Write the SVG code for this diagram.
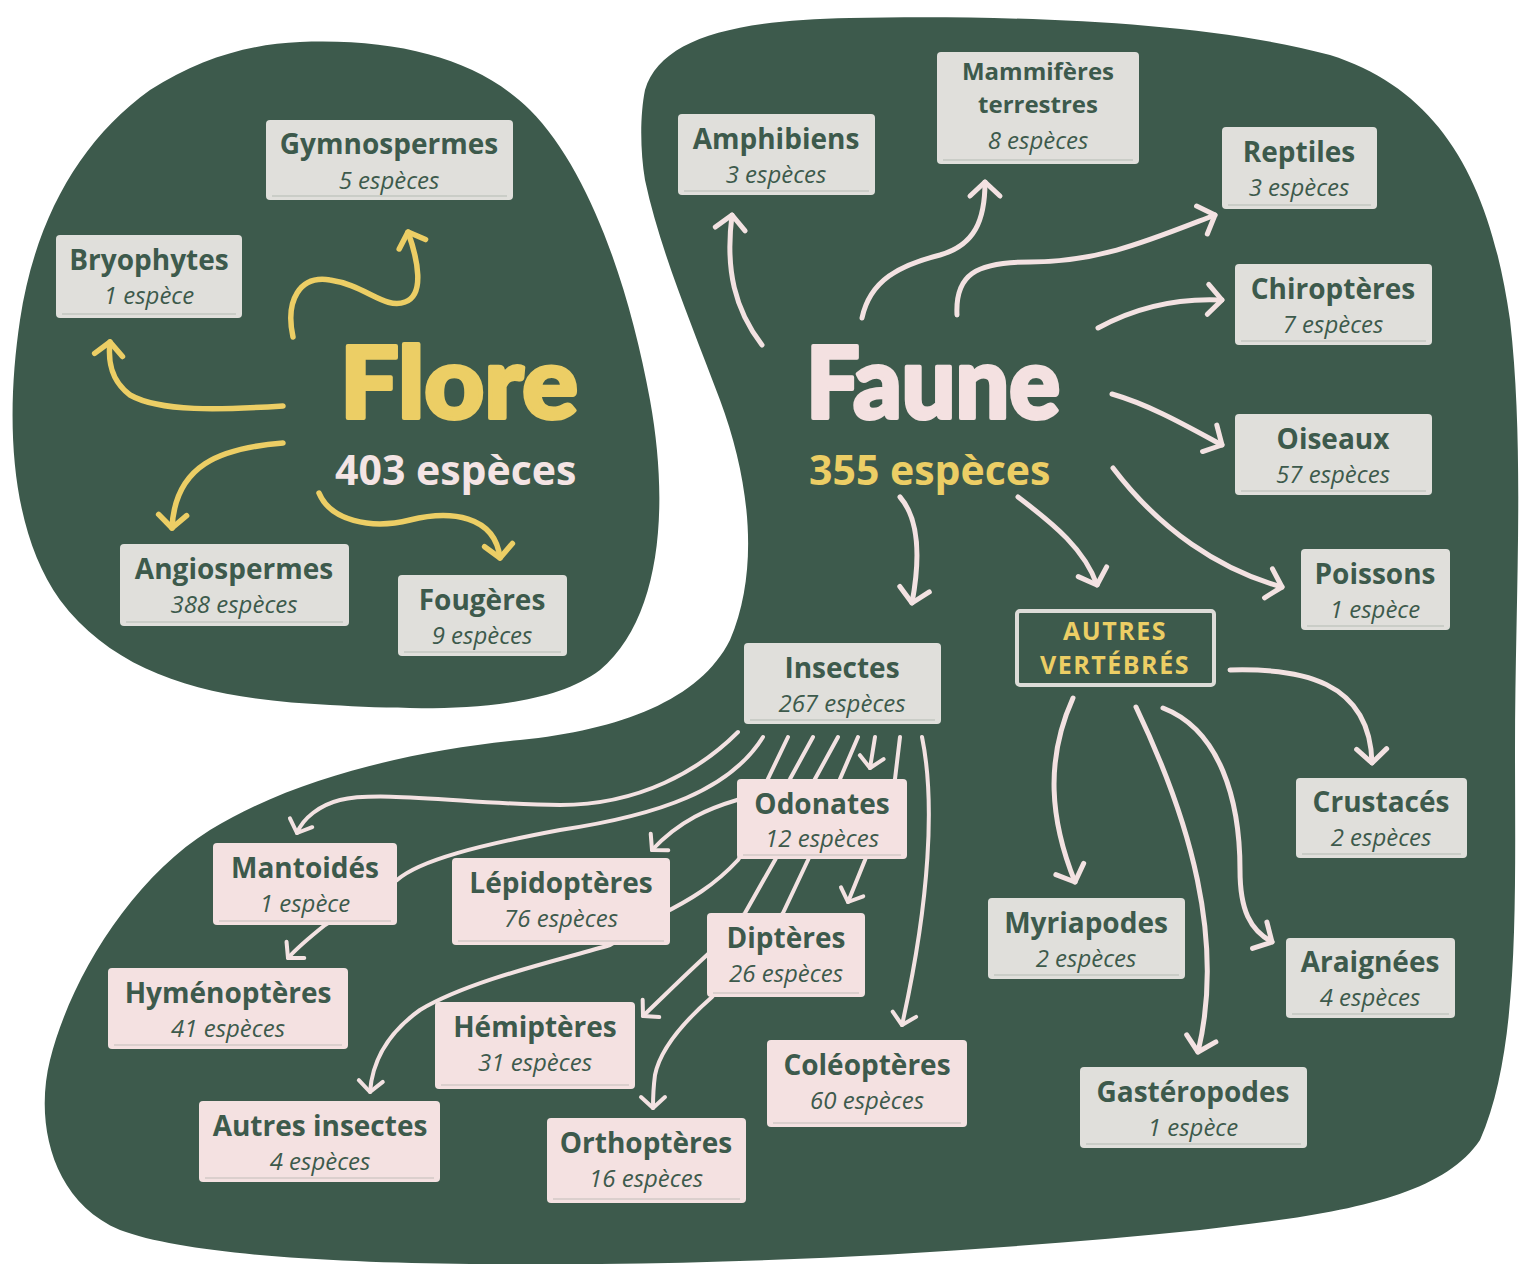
<svg xmlns="http://www.w3.org/2000/svg" width="1519" height="1264" viewBox="0 0 1519 1264">
<style>
.bg{fill:#3d5a4c}
.bx{fill:#e0dfdb}
.pk{fill:#f4e1e1}
.il{stroke:#3d5a4c;stroke-opacity:.18;stroke-width:1.5;fill:none}
.nm{font-family:"Open Sans","Lato",sans-serif;font-weight:700;font-size:28px;fill:#3d5a4c;text-anchor:middle}
.ct{font-family:"Open Sans","Lato",sans-serif;font-style:italic;font-weight:500;font-size:24px;fill:#3d5a4c;text-anchor:middle}
.cy{fill:none;stroke:#ecce65;stroke-width:5.5;stroke-linecap:round;stroke-linejoin:round}
.cp{fill:none;stroke:#f3e2e2;stroke-width:5;stroke-linecap:round;stroke-linejoin:round}
.ci{fill:none;stroke:#f3e2e2;stroke-width:4;stroke-linecap:round;stroke-linejoin:round}
.ttl{font-family:"Lato","Open Sans",sans-serif;font-weight:900;font-size:100px;stroke-width:4;stroke-linejoin:round}
.sub{font-family:"Open Sans","Lato",sans-serif;font-weight:700;font-size:41px}
.av{font-family:"Open Sans","Lato",sans-serif;font-weight:700;font-size:25px;fill:#ecce65;text-anchor:middle;letter-spacing:1.5px}
</style>
<defs>
<marker id="ay" viewBox="-20 -20 40 40" markerWidth="40" markerHeight="40" markerUnits="userSpaceOnUse" orient="auto" refX="0" refY="0"><path d="M-13,-14 L0,0 L-13,14" fill="none" stroke="#ecce65" stroke-width="5.5" stroke-linecap="round" stroke-linejoin="round"/></marker>
<marker id="ap" viewBox="-20 -20 40 40" markerWidth="40" markerHeight="40" markerUnits="userSpaceOnUse" orient="auto" refX="0" refY="0"><path d="M-14,-15 L0,0 L-14,15" fill="none" stroke="#f3e2e2" stroke-width="5" stroke-linecap="round" stroke-linejoin="round"/></marker>
<marker id="ai" viewBox="-20 -20 40 40" markerWidth="40" markerHeight="40" markerUnits="userSpaceOnUse" orient="auto" refX="0" refY="0"><path d="M-11,-12 L0,0 L-11,12" fill="none" stroke="#f3e2e2" stroke-width="4" stroke-linecap="round" stroke-linejoin="round"/></marker>
</defs>
<rect width="1519" height="1264" fill="#ffffff"/>
<g id="blobs">
<path class="bg" d="M300,42 C400,38 480,60 530,110 C590,170 630,290 650,400 C670,510 660,620 600,670 C540,715 420,710 330,705 C220,700 120,680 60,600 C10,530 5,420 20,320 C35,220 80,140 150,90 C200,58 250,44 300,42 Z"/>
<path class="bg" d="M645,90 C660,40 730,20 850,18 C1000,15 1200,20 1330,55 C1440,90 1490,180 1510,320 C1525,450 1515,600 1515,750 C1515,900 1520,1050 1480,1140 C1440,1200 1330,1215 1200,1230 C1000,1250 800,1262 600,1264 C400,1266 200,1260 120,1230 C50,1200 35,1120 50,1060 C70,980 130,880 210,830 C300,775 420,750 520,740 C620,730 700,700 730,640 C760,570 750,480 720,400 C690,320 660,250 645,180 C640,150 640,115 645,90 Z"/>
</g>
<g id="connectors">
<path class="cy" marker-end="url(#ay)" d="M293,337 C285,300 300,275 330,280 C365,285 385,310 405,302 C425,295 418,260 408,232"/>
<path class="cy" marker-end="url(#ay)" d="M283,406 C220,410 160,412 130,395 C110,380 108,360 110,342"/>
<path class="cy" marker-end="url(#ay)" d="M283,443 C220,448 175,465 172,528"/>
<path class="cy" marker-end="url(#ay)" d="M319,493 C330,520 370,530 410,520 C450,510 495,515 500,558"/>
<path class="cp" marker-end="url(#ap)" d="M762,345 C735,310 725,270 732,215"/>
<path class="cp" marker-end="url(#ap)" d="M862,318 C870,280 900,265 940,255 C975,245 985,220 985,182"/>
<path class="cp" marker-end="url(#ap)" d="M957,315 C955,275 975,262 1030,262 C1100,262 1150,240 1215,215"/>
<path class="cp" marker-end="url(#ap)" d="M1098,328 C1140,305 1180,298 1222,300"/>
<path class="cp" marker-end="url(#ap)" d="M1112,394 C1150,405 1185,425 1222,445"/>
<path class="cp" marker-end="url(#ap)" d="M1113,468 C1160,530 1220,570 1282,587"/>
<path class="cp" marker-end="url(#ap)" d="M900,497 C920,520 920,560 912,603"/>
<path class="cp" marker-end="url(#ap)" d="M1018,497 C1055,525 1085,550 1097,585"/>
<path class="cp" marker-end="url(#ap)" d="M1230,670 C1300,668 1370,680 1372,763"/>
<path class="cp" marker-end="url(#ap)" d="M1073,698 C1045,760 1050,820 1075,882"/>
<path class="cp" marker-end="url(#ap)" d="M1136,707 C1190,820 1225,940 1198,1052"/>
<path class="cp" marker-end="url(#ap)" d="M1163,708 C1220,730 1240,800 1240,870 C1240,910 1250,930 1272,942"/>
<path class="ci" marker-end="url(#ai)" d="M738,732 C700,770 640,805 560,805 C480,805 380,790 340,800 C320,805 303,818 297,833"/>
<path class="ci" marker-end="url(#ai)" d="M763,737 C730,790 660,815 560,830 C480,845 420,860 397,880 L325,925 C310,937 298,947 288,958"/>
<path class="ci" marker-end="url(#ai)" d="M788,737 L765,785 L737,800 C710,808 680,820 652,850"/>
<path class="ci" marker-end="url(#ai)" d="M813,737 L790,779 L738,860 C715,885 690,900 660,915 L610,945 C560,960 470,980 420,1010 C385,1035 372,1065 370,1092"/>
<path class="ci" marker-end="url(#ai)" d="M838,737 L815,779 L775,860 L745,913 L707,955 C685,975 665,995 643,1016"/>
<path class="ci" marker-end="url(#ai)" d="M858,737 L840,779 L808,860 L783,913 L712,997 C680,1025 660,1050 655,1075 C653,1090 653,1100 653,1108"/>
<path class="ci" marker-end="url(#ai)" d="M875,737 L870,768"/>
<path class="ci" marker-end="url(#ai)" d="M900,737 L895,779 L865,860 L848,902"/>
<path class="ci" marker-end="url(#ai)" d="M922,737 C935,800 930,900 902,1025"/>
</g>
<g id="flore-title">
<text class="ttl" x="340" y="418" fill="#ecce65" stroke="#ecce65" textLength="238" lengthAdjust="spacingAndGlyphs">Flore</text>
<text class="sub" x="335" y="485" fill="#f4e4e4">403 espèces</text>
</g>
<g id="faune-title">
<text class="ttl" x="806" y="418" fill="#f4e1e1" stroke="#f4e1e1" textLength="254" lengthAdjust="spacingAndGlyphs">Faune</text>
<text class="sub" x="809" y="485" fill="#ecce65">355 espèces</text>
</g>
<g id="gymnospermes"><rect class="bx" x="266" y="120" width="247" height="80" rx="4"/><line class="il" x1="272" y1="196" x2="507" y2="196"/><text class="nm" x="389" y="154">Gymnospermes</text><text class="ct" x="389" y="189">5 espèces</text></g>
<g id="bryophytes"><rect class="bx" x="56" y="235" width="186" height="83" rx="4"/><line class="il" x1="62" y1="314" x2="236" y2="314"/><text class="nm" x="149" y="270">Bryophytes</text><text class="ct" x="149" y="304">1 espèce</text></g>
<g id="angiospermes"><rect class="bx" x="120" y="544" width="229" height="82" rx="4"/><line class="il" x1="126" y1="622" x2="343" y2="622"/><text class="nm" x="234" y="579">Angiospermes</text><text class="ct" x="234" y="613">388 espèces</text></g>
<g id="fougeres"><rect class="bx" x="398" y="575" width="169" height="81" rx="4"/><line class="il" x1="404" y1="652" x2="561" y2="652"/><text class="nm" x="482" y="610">Fougères</text><text class="ct" x="482" y="644">9 espèces</text></g>
<g id="amphibiens"><rect class="bx" x="678" y="114" width="197" height="81" rx="4"/><line class="il" x1="684" y1="191" x2="869" y2="191"/><text class="nm" x="776" y="149">Amphibiens</text><text class="ct" x="776" y="183">3 espèces</text></g>
<g id="mammiferes"><rect class="bx" x="937" y="52" width="202" height="112" rx="4"/><line class="il" x1="943" y1="160" x2="1133" y2="160"/><text class="nm" x="1038" y="80" style="font-size:24px">Mammifères</text><text class="nm" x="1038" y="113" style="font-size:24px">terrestres</text><text class="ct" x="1038" y="149">8 espèces</text></g>
<g id="reptiles"><rect class="bx" x="1222" y="127" width="155" height="82" rx="4"/><line class="il" x1="1228" y1="205" x2="1371" y2="205"/><text class="nm" x="1299" y="162">Reptiles</text><text class="ct" x="1299" y="196">3 espèces</text></g>
<g id="chiropteres"><rect class="bx" x="1235" y="264" width="197" height="81" rx="4"/><line class="il" x1="1241" y1="341" x2="1426" y2="341"/><text class="nm" x="1333" y="299">Chiroptères</text><text class="ct" x="1333" y="333">7 espèces</text></g>
<g id="oiseaux"><rect class="bx" x="1235" y="414" width="197" height="81" rx="4"/><line class="il" x1="1241" y1="491" x2="1426" y2="491"/><text class="nm" x="1333" y="449">Oiseaux</text><text class="ct" x="1333" y="483">57 espèces</text></g>
<g id="poissons"><rect class="bx" x="1301" y="549" width="149" height="81" rx="4"/><line class="il" x1="1307" y1="626" x2="1444" y2="626"/><text class="nm" x="1375" y="584">Poissons</text><text class="ct" x="1375" y="618">1 espèce</text></g>
<g id="insectes"><rect class="bx" x="744" y="643" width="197" height="81" rx="4"/><line class="il" x1="750" y1="720" x2="935" y2="720"/><text class="nm" x="842" y="678">Insectes</text><text class="ct" x="842" y="712">267 espèces</text></g>
<g id="autres-vertebres"><rect x="1017" y="611" width="197" height="74" rx="3" fill="none" stroke="#dddcd8" stroke-width="4"/><text class="av" x="1115" y="640">AUTRES</text><text class="av" x="1115" y="674">VERTÉBRÉS</text></g>
<g id="crustaces"><rect class="bx" x="1296" y="778" width="171" height="80" rx="4"/><line class="il" x1="1302" y1="854" x2="1461" y2="854"/><text class="nm" x="1381" y="812">Crustacés</text><text class="ct" x="1381" y="846">2 espèces</text></g>
<g id="myriapodes"><rect class="bx" x="988" y="898" width="197" height="81" rx="4"/><line class="il" x1="994" y1="975" x2="1179" y2="975"/><text class="nm" x="1086" y="933">Myriapodes</text><text class="ct" x="1086" y="967">2 espèces</text></g>
<g id="araignees"><rect class="bx" x="1286" y="938" width="169" height="80" rx="4"/><line class="il" x1="1292" y1="1014" x2="1449" y2="1014"/><text class="nm" x="1370" y="972">Araignées</text><text class="ct" x="1370" y="1006">4 espèces</text></g>
<g id="gasteropodes"><rect class="bx" x="1080" y="1067" width="227" height="81" rx="4"/><line class="il" x1="1086" y1="1144" x2="1301" y2="1144"/><text class="nm" x="1193" y="1102">Gastéropodes</text><text class="ct" x="1193" y="1136">1 espèce</text></g>
<g id="odonates"><rect class="pk" x="737" y="779" width="170" height="80" rx="4"/><line class="il" x1="743" y1="855" x2="901" y2="855"/><text class="nm" x="822" y="814">Odonates</text><text class="ct" x="822" y="847">12 espèces</text></g>
<g id="mantoides"><rect class="pk" x="213" y="843" width="184" height="82" rx="4"/><line class="il" x1="219" y1="921" x2="391" y2="921"/><text class="nm" x="305" y="878">Mantoidés</text><text class="ct" x="305" y="912">1 espèce</text></g>
<g id="lepidopteres"><rect class="pk" x="452" y="858" width="218" height="87" rx="4"/><line class="il" x1="458" y1="941" x2="664" y2="941"/><text class="nm" x="561" y="893">Lépidoptères</text><text class="ct" x="561" y="927">76 espèces</text></g>
<g id="hymenopteres"><rect class="pk" x="108" y="968" width="240" height="81" rx="4"/><line class="il" x1="114" y1="1045" x2="342" y2="1045"/><text class="nm" x="228" y="1003">Hyménoptères</text><text class="ct" x="228" y="1037">41 espèces</text></g>
<g id="dipteres"><rect class="pk" x="707" y="913" width="158" height="84" rx="4"/><line class="il" x1="713" y1="993" x2="859" y2="993"/><text class="nm" x="786" y="948">Diptères</text><text class="ct" x="786" y="982">26 espèces</text></g>
<g id="hemipteres"><rect class="pk" x="435" y="1002" width="200" height="87" rx="4"/><line class="il" x1="441" y1="1085" x2="629" y2="1085"/><text class="nm" x="535" y="1037">Hémiptères</text><text class="ct" x="535" y="1071">31 espèces</text></g>
<g id="coleopteres"><rect class="pk" x="767" y="1040" width="200" height="87" rx="4"/><line class="il" x1="773" y1="1123" x2="961" y2="1123"/><text class="nm" x="867" y="1075">Coléoptères</text><text class="ct" x="867" y="1109">60 espèces</text></g>
<g id="autres-insectes"><rect class="pk" x="199" y="1101" width="241" height="81" rx="4"/><line class="il" x1="205" y1="1178" x2="434" y2="1178"/><text class="nm" x="320" y="1136">Autres insectes</text><text class="ct" x="320" y="1170">4 espèces</text></g>
<g id="orthopteres"><rect class="pk" x="547" y="1118" width="199" height="85" rx="4"/><line class="il" x1="553" y1="1199" x2="740" y2="1199"/><text class="nm" x="646" y="1153">Orthoptères</text><text class="ct" x="646" y="1187">16 espèces</text></g>
</svg>
